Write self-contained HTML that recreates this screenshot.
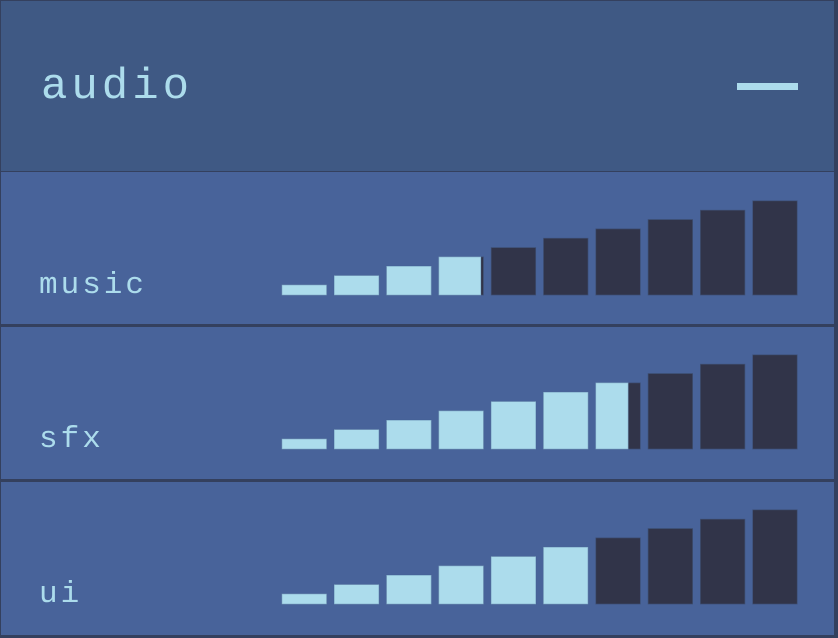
<!DOCTYPE html>
<html><head><meta charset="utf-8"><style>
html,body{margin:0;padding:0;background:#2f3a55;}
#root{position:relative;width:838px;height:638px;overflow:hidden;background:#34405e;font-family:"Liberation Mono","DejaVu Sans Mono",monospace;}
.hdr{position:absolute;left:1px;top:1px;width:833px;height:170px;background:#3f5984;}
.row{position:absolute;left:1px;width:833px;background:#48639a;}
.lbl{position:absolute;left:38px;color:#acdcec;font-size:31px;line-height:1;letter-spacing:3px;}
.title{position:absolute;left:40px;top:64px;color:#acdcec;font-size:44px;line-height:1;letter-spacing:4px;}
.minus{position:absolute;left:736px;top:82px;width:61px;height:7px;background:#acdcec;}
svg{position:absolute;left:0;top:0;}
</style></head><body>
<div id="root">
<div class="hdr">
  <div class="title">audio</div>
  <div class="minus"></div>
</div>
<div class="row" style="top:172px;height:152px"><div class="lbl" style="top:98px">music</div></div>
<div class="row" style="top:327px;height:152px"><div class="lbl" style="top:97px">sfx</div></div>
<div class="row" style="top:482px;height:153px"><div class="lbl" style="top:97px">ui</div></div>
<svg id="chart" width="838" height="638"></svg>
</div>
<script>
const channels = ["music", "sfx", "ui"];
const levels = [0.386, 0.672, 0.594];
const barCount = 10;
const ns = "http://www.w3.org/2000/svg";
const svg = document.getElementById("chart");
const x0 = 282, x1 = 797, pitch = 52.3, bw = 44.5;
const baselines = [295, 449, 604];
function barX(i){ return x0 + i * pitch; }
function barH(i){ return 10 + i * 9.35; }
function levelX(v){ return x0 + v * (x1 - x0); }
channels.forEach((ch, r) => {
  const base = baselines[r];
  const fx = levelX(levels[r]);
  for (let i = 0; i < barCount; i++) {
    const x = barX(i), h = barH(i);
    const bg = document.createElementNS(ns, "rect");
    bg.setAttribute("x", x); bg.setAttribute("y", base - h);
    bg.setAttribute("width", bw); bg.setAttribute("height", h);
    bg.setAttribute("fill", "#313449"); bg.setAttribute("stroke", "#3d4e72"); bg.setAttribute("stroke-width", "0.7");
    
    
    svg.appendChild(bg);
    const fw = Math.max(0, Math.min(bw, fx - x));
    if (fw > 0) {
      const f = document.createElementNS(ns, "rect");
      f.setAttribute("x", x); f.setAttribute("y", base - h);
      f.setAttribute("width", fw); f.setAttribute("height", h);
      f.setAttribute("fill", "#acdcec"); f.setAttribute("stroke", "#7fa8c8"); f.setAttribute("stroke-width", "0.6");
      
      
      svg.appendChild(f);
    }
  }
});
</script>
</body></html>
